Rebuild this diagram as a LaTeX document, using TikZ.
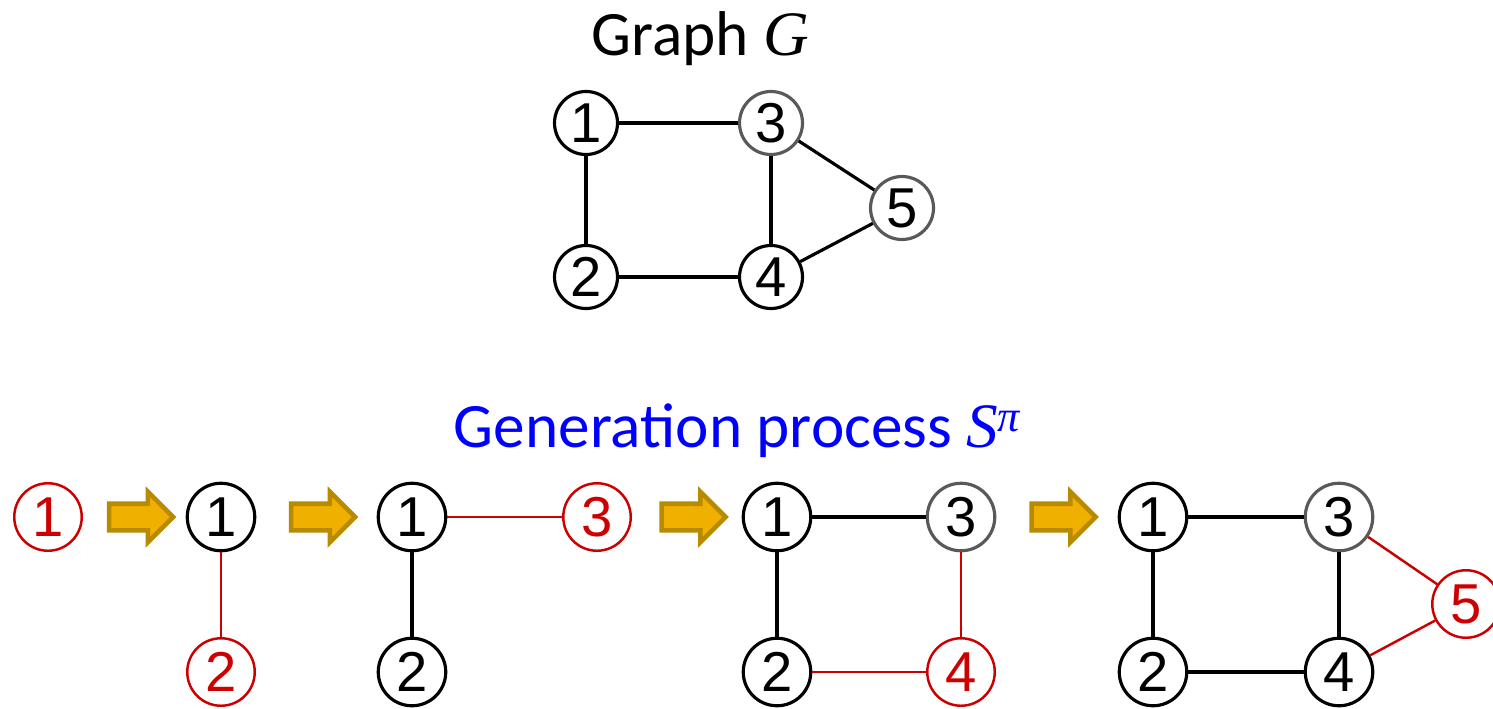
\documentclass[tikz,border=0pt]{standalone}
\usepackage{fontspec}
\setmainfont{Carlito}
\newfontfamily\digitfont{Liberation Sans}
\newfontfamily\varfont{Liberation Serif}
\usepackage{xcolor}
\usepackage{tikz}
\usetikzlibrary{shapes.arrows, positioning, calc}

\definecolor{newred}{RGB}{204,0,0}
\definecolor{goldfill}{RGB}{240,176,0}
\definecolor{golddraw}{RGB}{184,138,0}

% italic variable names
\newcommand{\varname}[1]{{\varfont\itshape #1}}

\begin{document}
\begin{tikzpicture}[
    on grid,
    % graph vertices
    vtx/.style={circle, draw=black, line width=1.8pt, minimum size=1.35cm,
                inner sep=0pt, font=\digitfont\fontsize{32}{32}\selectfont},
    smallvtx/.style={vtx, minimum size=1.26cm},
    % vertex added in the current step
    newvtx/.style={vtx, draw=newred, text=newred, line width=1.4pt},
    link/.style={line width=1.8pt, black},
    newlink/.style={line width=1.4pt, newred},
    % block arrows between steps
    stagearrow/.style={single arrow, fill=goldfill, draw=golddraw, line width=2.6pt,
                       minimum height=1.28cm, inner sep=0pt, inner ysep=0.22cm,
                       single arrow head extend=0.24cm},
    title/.style={font=\fontsize{36}{40}\selectfont, anchor=base}
]
\useasboundingbox (0,0) rectangle (29.86,14.16);

%-------- GRAPH G --------
\node[title] (gtitle) at (14.0,13.06) {Graph \varname{G}};
\node[smallvtx] (t1) at (11.72,11.70) {1};
\node[smallvtx, draw=black!65, right=3.7cm of t1] (t3) {3};
\node[smallvtx, below=3.08cm of t1] (t2) {2};
\node[smallvtx, below=3.08cm of t3] (t4) {4};
\node[smallvtx, draw=black!65] (t5) at (18.04,10.00) {5};

\draw[link] (t1) -- (t3);
\draw[link] (t1) -- (t2);
\draw[link] (t3) -- (t4);
\draw[link] (t2) -- (t4);
\draw[link] (t3) -- (t5);
\draw[link] (t4) -- (t5);

%-------- GENERATION PROCESS --------
\node[title, text=blue] (ptitle) at (14.75,5.22)
    {Generation process \varname{S}\textsuperscript{\varname{π}}};

% step 1
\node[newvtx] (a1) at (0.96,3.82) {1};

% step 2
\node[vtx] (b1) at (4.42,3.82) {1};
\node[newvtx, below=3.1cm of b1] (b2) {2};
\draw[newlink] (b1) -- (b2);

% step 3
\node[vtx] (c1) at (8.24,3.82) {1};
\node[newvtx, right=3.7cm of c1] (c3) {3};
\node[vtx, below=3.1cm of c1] (c2) {2};
\draw[link] (c1) -- (c2);
\draw[newlink] (c1) -- (c3);

% step 4
\node[vtx] (d1) at (15.54,3.82) {1};
\node[vtx, draw=black!65, right=3.68cm of d1] (d3) {3};
\node[vtx, below=3.1cm of d1] (d2) {2};
\node[newvtx, below=3.1cm of d3] (d4) {4};
\draw[link] (d1) -- (d3);
\draw[link] (d1) -- (d2);
\draw[newlink] (d3) -- (d4);
\draw[newlink] (d2) -- (d4);

% step 5
\node[vtx] (e1) at (23.06,3.82) {1};
\node[vtx, draw=black!65, right=3.72cm of e1] (e3) {3};
\node[vtx, below=3.1cm of e1] (e2) {2};
\node[vtx, below=3.1cm of e3] (e4) {4};
\node[newvtx] (e5) at (29.32,2.08) {5};
\draw[link] (e1) -- (e3);
\draw[link] (e1) -- (e2);
\draw[link] (e3) -- (e4);
\draw[link] (e2) -- (e4);
\draw[newlink] (e3) -- (e5);
\draw[newlink] (e4) -- (e5);

%-------- ARROWS between steps --------
\node[stagearrow] (s1) at ($(a1)!0.5!(b1)$) {};
\node[stagearrow] (s2) at ($(b1)!0.5!(c1)$) {};
\node[stagearrow] (s3) at ($(c3)!0.5!(d1)$) {};
\node[stagearrow] (s4) at ($(d3)!0.5!(e1)$) {};

\end{tikzpicture}
\end{document}
